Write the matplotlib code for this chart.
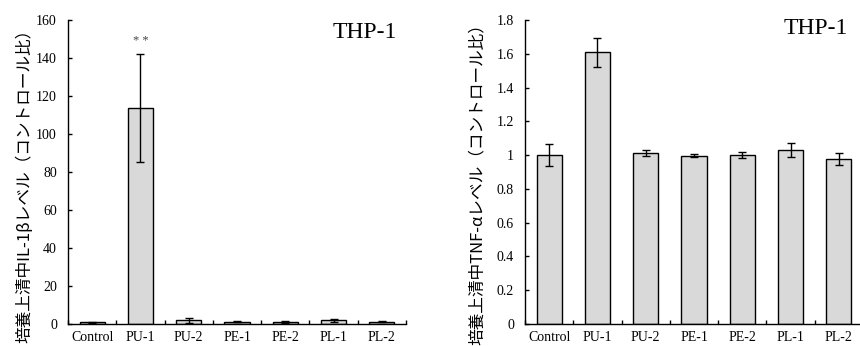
import numpy as np
import matplotlib
matplotlib.use("Agg")
import matplotlib.pyplot as plt
from matplotlib.ticker import FixedLocator, MultipleLocator

categories = ["Control", "PU-1", "PU-2", "PE-1", "PE-2", "PL-1", "PL-2"]

# IL-1b (left panel)
il1b = [1.0, 113.8, 1.9, 1.3, 1.1, 1.9, 1.3]
il1b_err = [0.3, 28.3, 1.5, 0.3, 0.5, 0.8, 0.4]

# TNF-a (right panel)
tnfa = [1.0, 1.608, 1.012, 0.997, 1.0, 1.028, 0.979]
tnfa_err = [0.065, 0.085, 0.02, 0.011, 0.02, 0.042, 0.036]

ylabel_left = "培養上清中IL-1βレベル（コントロール比）"
ylabel_right = "培養上清中TNF-αレベル（コントロール比）"
cell_line = "THP-1"

serif = "Liberation Serif"
jp = ["Noto Sans CJK JP", "DejaVu Sans"]

fig = plt.figure(figsize=(8.6, 3.46), dpi=100)
ax1 = fig.add_axes([0.0791, 0.0636, 0.393, 0.8786])
ax2 = fig.add_axes([0.6105, 0.0636, 0.393, 0.8786])


def draw(ax, vals, errs, ymax, ystep):
    x = np.arange(len(categories)) + 0.5
    ax.bar(x, vals, width=0.52, color="#d9d9d9", edgecolor="black",
           linewidth=1.0, zorder=2)
    ax.errorbar(x, vals, yerr=errs, fmt="none", ecolor="black",
                elinewidth=1.0, capsize=2.6, capthick=1.0, zorder=3)
    ax.set_xlim(0, len(categories))
    ax.set_ylim(0, ymax)
    ax.spines["top"].set_visible(False)
    ax.spines["right"].set_visible(False)
    ax.spines["left"].set_linewidth(1.0)
    ax.spines["bottom"].set_linewidth(1.0)
    ax.set_xticks(x)
    ax.set_xticklabels(categories, fontfamily=serif, fontsize=10)
    ax.xaxis.set_minor_locator(FixedLocator(np.arange(0, len(categories) + 1)))
    ax.tick_params(axis="x", which="major", length=0, pad=5)
    ax.tick_params(axis="x", which="minor", direction="in", length=3, width=1)
    ax.yaxis.set_major_locator(MultipleLocator(ystep))
    ax.yaxis.set_major_formatter(plt.FuncFormatter(lambda v, p: f"{v:g}"))
    ax.tick_params(axis="y", direction="in", length=3, width=1, pad=8)
    for lab in ax.get_yticklabels():
        lab.set_fontfamily(serif)
        lab.set_fontsize(10)


draw(ax1, il1b, il1b_err, 160, 20)
draw(ax2, tnfa, tnfa_err, 1.8, 0.2)

ax1.text(1.5, 149, "* *", ha="center", va="center", fontfamily=serif,
         fontsize=9, color="#444444")

fig.text(397 / 860, 1 - 33 / 346, cell_line, ha="right", va="center",
         fontfamily=serif, fontsize=17)
fig.text(848 / 860, 1 - 28 / 346, cell_line, ha="right", va="center",
         fontfamily=serif, fontsize=17)

fig.text(25 / 860, 1 - 182 / 346, ylabel_left, rotation=90, ha="center",
         va="center", family=jp, fontsize=12)
fig.text(477 / 860, 1 - 180 / 346, ylabel_right, rotation=90, ha="center",
         va="center", family=jp, fontsize=12)

fig.savefig("out.png", dpi=100)
